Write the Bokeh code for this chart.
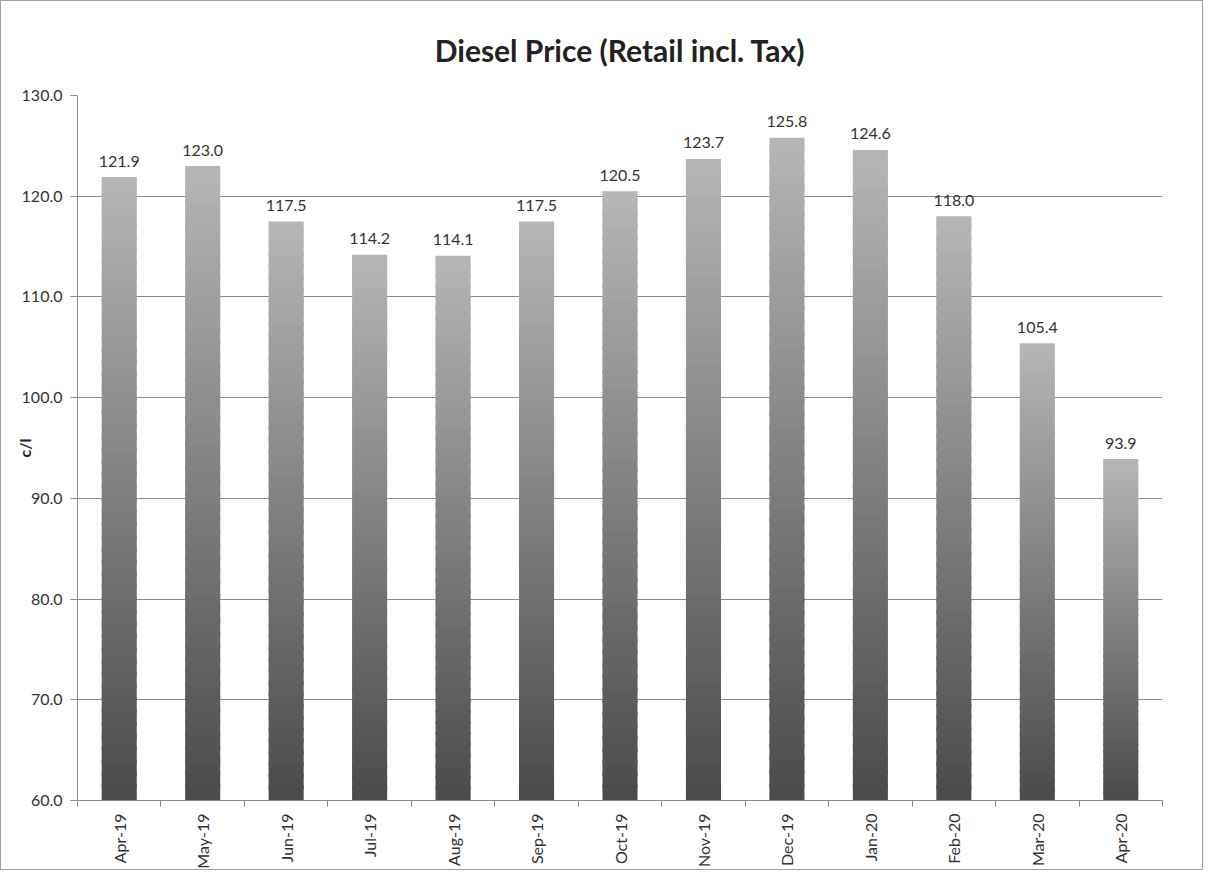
import math
from bokeh.plotting import figure
from bokeh.models import Range1d, FixedTicker, PrintfTickFormatter
from bokeh.core.properties import value
from bokeh.embed import file_html
from bokeh.resources import INLINE

months = ["Apr-19", "May-19", "Jun-19", "Jul-19", "Aug-19", "Sep-19", "Oct-19",
          "Nov-19", "Dec-19", "Jan-20", "Feb-20", "Mar-20", "Apr-20"]
prices = [121.9, 123.0, 117.5, 114.2, 114.1, 117.5, 120.5, 123.7, 125.8, 124.6, 118.0, 105.4, 93.9]
y_ticks = [60, 70, 80, 90, 100, 110, 120, 130]

Y_MIN, Y_MAX = 60, 130
FONT = "Lato"

p = figure(width=1203, height=870, output_backend="svg", toolbar_location=None,
           x_range=Range1d(0, len(months)), y_range=Range1d(Y_MIN, Y_MAX),
           min_border_left=76, min_border_right=42, min_border_top=94, min_border_bottom=69,
           title="Diesel Price (Retail incl. Tax)")
p.styles = {"border": "1px solid #a0a0a0"}

p.title.align = "center"
p.title.vertical_align = "top"
p.title.text_font = FONT
p.title.text_font_size = "30px"
p.title.text_font_style = "bold"
p.title.text_color = "#222222"
p.title.standoff = 52

# gradient bars: stacked segments from dark (bottom) to light (top)
N = 50
bw = 0.42
lefts, rights, bottoms, tops, colors = [], [], [], [], []
c_bot, c_top = 0x4a, 0xb6
for i, v in enumerate(prices):
    cx = i + 0.5
    for k in range(N):
        b = Y_MIN + (v - Y_MIN) * k / N
        t = Y_MIN + (v - Y_MIN) * (k + 1) / N
        f = (k + 0.5) / N
        g = int(round(c_bot + (c_top - c_bot) * f))
        lefts.append(cx - bw / 2)
        rights.append(cx + bw / 2)
        bottoms.append(b)
        tops.append(t + (v - Y_MIN) / N * 0.3 if k < N - 1 else t)
        colors.append("#%02x%02x%02x" % (g, g, g))

p.quad(left=lefts, right=rights, bottom=bottoms, top=tops, fill_color=colors, line_color=None)

# value labels
centers = [i + 0.5 for i in range(len(months))]
p.text(x=centers, y=prices, text=["%.1f" % v for v in prices], text_align="center",
       text_baseline="alphabetic", y_offset=-16, text_font=value(FONT), text_font_size="16px",
       text_color="#333333")

# x axis
p.xaxis.ticker = FixedTicker(ticks=centers, minor_ticks=list(range(len(months) + 1)))
p.xaxis.major_label_overrides = {c: m for c, m in zip(centers, months)}
p.xaxis.major_label_orientation = math.pi / 2
p.xaxis.major_tick_line_color = None
p.xaxis.minor_tick_line_color = "#8c8c8c"
p.xaxis.minor_tick_out = 6
p.xaxis.minor_tick_in = 0
p.xaxis.major_label_standoff = 7
p.xaxis.major_label_text_font = FONT
p.xaxis.major_label_text_font_size = "16px"
p.xaxis.major_label_text_color = "#333333"
p.xaxis.axis_line_color = "#8c8c8c"

# y axis
p.yaxis.ticker = FixedTicker(ticks=y_ticks, minor_ticks=[])
p.yaxis.formatter = PrintfTickFormatter(format="%.1f")
p.yaxis.major_tick_out = 7
p.yaxis.major_tick_in = 0
p.yaxis.major_tick_line_color = "#8c8c8c"
p.yaxis.major_label_standoff = 8
p.yaxis.major_label_text_font = FONT
p.yaxis.major_label_text_font_size = "16px"
p.yaxis.major_label_text_color = "#333333"
p.yaxis.axis_line_color = "#8c8c8c"
p.yaxis.axis_label = "c/l"
p.yaxis.axis_label_text_font = FONT
p.yaxis.axis_label_text_font_size = "16px"
p.yaxis.axis_label_text_font_style = "bold"
p.yaxis.axis_label_text_color = "#222222"
p.yaxis.axis_label_standoff = -15

p.xgrid.grid_line_color = None
p.ygrid.grid_line_color = "#8c8c8c"
p.ygrid.grid_line_width = 1
p.outline_line_color = None
p.background_fill_color = "white"
p.border_fill_color = "white"

open("out.html", "w").write(file_html(p, INLINE))
